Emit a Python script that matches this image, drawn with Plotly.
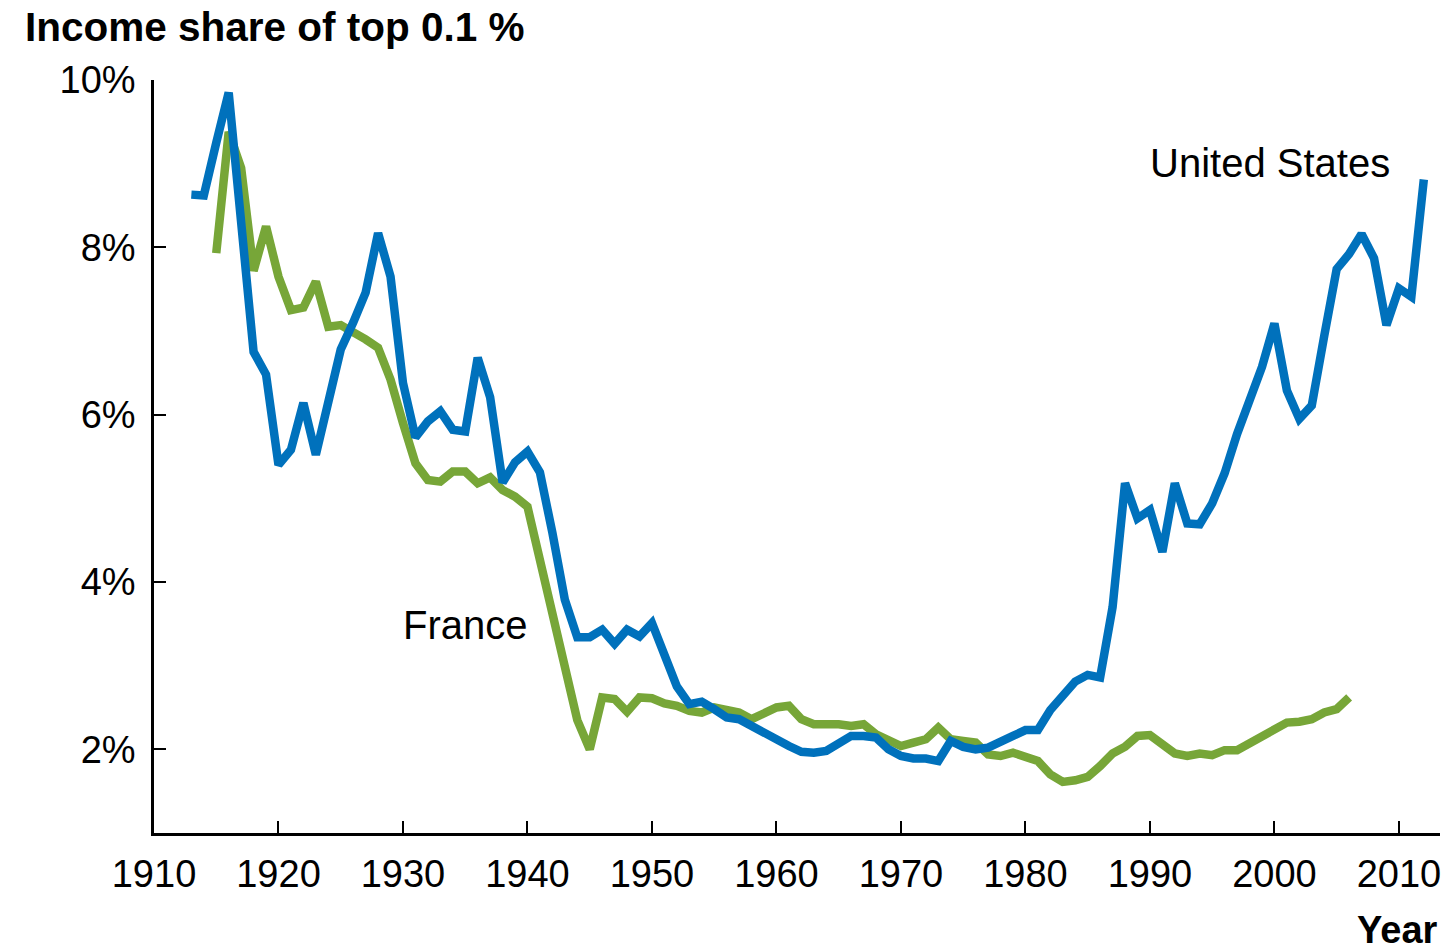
import plotly.graph_objects as go

# ---- data ----
us_years = list(range(1913, 2013))
us_share = [
    8.63, 8.62, 9.25, 9.85, 8.30, 6.75, 6.48, 5.40, 5.58, 6.14,   # 1913-1922
    5.52, 6.12, 6.78, 7.10, 7.46, 8.17, 7.65, 6.38, 5.73, 5.92,   # 1923-1932
    6.04, 5.82, 5.80, 6.68, 6.21, 5.19, 5.43, 5.56, 5.31, 4.59,   # 1933-1942
    3.79, 3.34, 3.34, 3.43, 3.26, 3.43, 3.35, 3.51, 3.13, 2.75,   # 1943-1952
    2.54, 2.57, 2.48, 2.38, 2.36, 2.28, 2.18, 2.10, 2.04, 1.97,   # 1953-1962
    1.96, 1.98, 2.06, 2.16, 2.16, 2.14, 2.00, 1.92, 1.89, 1.89,   # 1963-1972
    1.86, 2.10, 2.03, 2.00, 2.02, 2.08, 2.16, 2.23, 2.23, 2.47,   # 1973-1982
    2.63, 2.81, 2.89, 2.86, 3.70, 5.18, 4.76, 4.86, 4.36, 5.18,   # 1983-1992
    4.70, 4.69, 4.94, 5.30, 5.77, 6.16, 6.57, 7.09, 6.29, 5.95,   # 1993-2002
    6.11, 6.94, 7.74, 7.92, 8.16, 7.87, 7.07, 7.51, 7.41, 8.81,   # 2003-2012
]

fr_years = list(range(1915, 2007))
fr_share = [
    7.93, 9.38, 8.95, 7.72, 8.25, 7.65, 7.25, 7.28, 7.59, 7.05,   # 1915-1924
    7.07, 6.99, 6.90, 6.80, 6.42, 5.90, 5.42, 5.22, 5.20, 5.32,   # 1925-1934
    5.32, 5.18, 5.25, 5.10, 5.02, 4.90, 4.25, 3.60, 3.00, 2.35,   # 1935-1944
    2.00, 2.62, 2.60, 2.45, 2.62, 2.61, 2.55, 2.52, 2.46, 2.44,   # 1945-1954
    2.50, 2.48, 2.44, 2.36, 2.42, 2.50, 2.52, 2.36, 2.30, 2.31,   # 1955-1964
    2.30, 2.28, 2.30, 2.18, 2.10, 2.04, 2.08, 2.12, 2.26, 2.12,   # 1965-1974
    2.10, 2.08, 1.94, 1.92, 1.96, 1.90, 1.86, 1.70, 1.61, 1.63,   # 1975-1984
    1.67, 1.80, 1.95, 2.03, 2.16, 2.17, 2.06, 1.95, 1.92, 1.95,   # 1985-1994
    1.93, 1.99, 1.99, 2.07, 2.16, 2.24, 2.32, 2.33, 2.36, 2.44,   # 1995-2004
    2.48, 2.62,                                                   # 2005-2006
]

x_ticks = [1910, 1920, 1930, 1940, 1950, 1960, 1970, 1980, 1990, 2000, 2010]
y_ticks = [2, 4, 6, 8, 10]
y_tick_text = ["2%", "4%", "6%", "8%", "10%"]

BLUE = "#0071BC"
GREEN = "#77A638"
FONT = "Liberation Sans, Arial, sans-serif"

fig = go.Figure()
fig.add_trace(go.Scatter(x=fr_years, y=fr_share, mode="lines", name="France",
                         line=dict(color=GREEN, width=8.5)))
fig.add_trace(go.Scatter(x=us_years, y=us_share, mode="lines", name="United States",
                         line=dict(color=BLUE, width=8.5)))

fig.update_layout(
    width=1446, height=952,
    margin=dict(l=154, r=6, t=80, b=119),
    paper_bgcolor="white", plot_bgcolor="white",
    showlegend=False,
    font=dict(family=FONT, color="black", size=38),
    title=dict(text="<b>Income share of top 0.1 %</b>", x=25 / 1446, xanchor="left",
               xref="container", y=1 - 27 / 952, yanchor="middle", yref="container",
               font=dict(family=FONT, size=40.5, color="black")),
    xaxis=dict(range=[1910, 2013.3], tickvals=x_ticks, ticks="inside", ticklen=12,
               tickwidth=2, tickcolor="black", showline=True, linecolor="black",
               linewidth=2.5, showgrid=False, zeroline=False,
               tickfont=dict(size=38, family=FONT), ticklabelstandoff=6),
    yaxis=dict(range=[1, 10], tickvals=y_ticks, ticktext=y_tick_text, ticks="inside",
               ticklen=12, tickwidth=2, tickcolor="black", showline=True,
               linecolor="black", linewidth=2.5, showgrid=False, zeroline=False,
               tickfont=dict(size=38, family=FONT), ticklabelstandoff=8),
    annotations=[
        dict(text="France", x=1935.0, y=3.49, xref="x", yref="y", showarrow=False,
             font=dict(size=40, family=FONT, color="black")),
        dict(text="United States", x=1999.65, y=9.01, xref="x", yref="y", showarrow=False,
             font=dict(size=40, family=FONT, color="black")),
        dict(text="<b>Year</b>", x=1.0, y=-0.129, xref="paper", yref="paper",
             xanchor="right", yanchor="middle", showarrow=False,
             font=dict(size=38, family=FONT, color="black")),
    ],
)

fig.write_html(
    "out.html",
    config={"displayModeBar": False},
    post_script="document.body.style.margin='0';document.body.style.overflow='hidden';",
)
